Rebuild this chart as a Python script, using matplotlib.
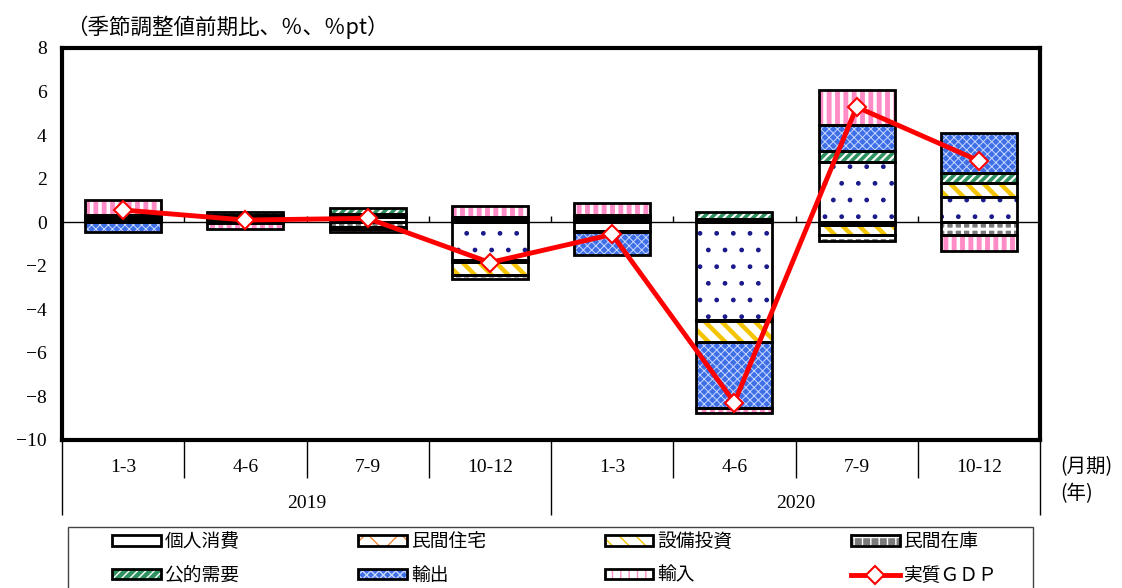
import matplotlib
matplotlib.use("Agg")
import matplotlib.pyplot as plt
import numpy as np
from matplotlib.patches import Patch, Rectangle
from matplotlib.lines import Line2D
from matplotlib.legend_handler import HandlerTuple

# ---------------- data ----------------
quarters = ["1-3", "4-6", "7-9", "10-12", "1-3", "4-6", "7-9", "10-12"]
years = ["2019", "2020"]
series_names = ["個人消費", "民間住宅", "設備投資", "民間在庫", "公的需要", "輸出", "輸入"]
consumption = [0.08, 0.15, 0.25, -1.72, -0.40, -4.50, 2.75, 1.18]
housing = [0.03, 0.02, 0.05, -0.10, -0.05, -0.05, -0.15, 0.00]
capex = [0.03, 0.10, 0.10, -0.62, 0.15, -0.95, -0.45, 0.60]
inventory = [0.10, 0.08, -0.20, -0.18, 0.10, 0.15, -0.25, -0.57]
public = [0.10, 0.10, 0.24, 0.12, 0.10, 0.32, 0.53, 0.46]
exports = [-0.47, -0.05, -0.10, 0.10, -1.05, -3.05, 1.20, 1.86]
imports = [0.69, -0.28, -0.16, 0.53, 0.55, -0.20, 1.60, -0.75]
gdp = [0.56, 0.10, 0.18, -1.85, -0.56, -8.28, 5.29, 2.82]
gdp_name = "実質ＧＤＰ"
yticks = list(range(-10, 9, 2))

# ---------------- styles ----------------
styles = [
    dict(face="white", hatch=".", hc="#1a1a8c", hlw=1.0),      # 個人消費
    dict(face="white", hatch="x", hc="#f08a40", hlw=1.6),      # 民間住宅
    dict(face="white", hatch="\\\\", hc="#f5c400", hlw=3.2),   # 設備投資
    dict(face="#7a7a7a", hatch="++", hc="white", hlw=2.2),     # 民間在庫
    dict(face="#2f9160", hatch="////", hc="white", hlw=1.6),   # 公的需要
    dict(face="#3f6fe6", hatch="xxxx", hc="#c8d8ff", hlw=0.7), # 輸出
    dict(face="white", hatch="||", hc="#ff8cc6", hlw=3.5),     # 輸入
]

CJK = ["Noto Sans CJK JP", "DejaVu Sans"]
NUM = ["Liberation Serif", "DejaVu Serif"]

fig = plt.figure(figsize=(11.22, 5.88), dpi=100)
ax = fig.add_axes([62 / 1122, 1 - 440 / 588, (1040 - 62) / 1122, (440 - 48) / 588])

x = np.arange(len(quarters))
width = 0.62
data = [consumption, housing, capex, inventory, public, exports, imports]
pos_bottom = np.zeros(len(x))
neg_bottom = np.zeros(len(x))


def set_hlw(patches, w):
    for p in patches:
        try:
            p.set_hatch_linewidth(w)
        except AttributeError:
            pass


for vals, st in zip(data, styles):
    vals = np.array(vals, dtype=float)
    bottoms = np.where(vals >= 0, pos_bottom, neg_bottom)
    mask = vals != 0
    with plt.rc_context({"hatch.linewidth": st["hlw"]}):
        bars = ax.bar(x[mask], vals[mask], width, bottom=bottoms[mask],
                      facecolor=st["face"], edgecolor=st["hc"], hatch=st["hatch"],
                      linewidth=0, zorder=2)
        set_hlw(bars, st["hlw"])
    ax.bar(x[mask], vals[mask], width, bottom=bottoms[mask], fill=False,
           edgecolor="black", linewidth=2, zorder=3)
    pos_bottom = pos_bottom + np.where(vals >= 0, vals, 0)
    neg_bottom = neg_bottom + np.where(vals < 0, vals, 0)

ax.plot(x, gdp, color="#ff0000", lw=3.5, marker="D", ms=9, mfc="white",
        mec="#ff0000", mew=1.5, zorder=5)

# zero axis with small tick marks at category boundaries
ax.axhline(0, color="black", lw=1, zorder=1)
bounds = np.arange(len(x) + 1) - 0.5
ax.vlines(bounds[1:-1], 0, 0.28, color="black", lw=1, zorder=1)

ax.set_xlim(-0.5, len(x) - 0.5)
ax.set_ylim(-10, 8)
ax.set_yticks(yticks)
ax.set_xticks([])
ax.tick_params(axis="y", length=0, pad=11, labelsize=14)
for lab in ax.get_yticklabels():
    lab.set_family(NUM)
for s in ax.spines.values():
    s.set_linewidth(3)
    s.set_color("black")

# category axis below
tr = ax.get_xaxis_transform()
inner = [b for i, b in enumerate(bounds) if i not in (0, 4, 8)]
outer = [bounds[0], bounds[4], bounds[8]]
ax.vlines(inner, -0.097, 0, transform=tr, color="black", lw=1, clip_on=False)
ax.vlines(outer, -0.191, 0, transform=tr, color="black", lw=1, clip_on=False)
for xi, q in zip(x, quarters):
    ax.text(xi, -0.069, q, transform=tr, ha="center", va="center",
            fontsize=14, family=NUM)
for i, yr in enumerate(years):
    ax.text(1.5 + 4 * i, -0.161, yr, transform=tr, ha="center", va="center",
            fontsize=14, family=NUM)

fig.text(1060 / 1122, 1 - 467 / 588, "(月期)", ha="left", va="center",
         fontsize=14, family=CJK)
fig.text(1060 / 1122, 1 - 494 / 588, "(年)", ha="left", va="center",
         fontsize=14, family=CJK)
fig.text(66 / 1122, 1 - 27 / 588, "（季節調整値前期比、％、％pt）", ha="left",
         va="center", fontsize=15.5, family=CJK)

# legend (row-wise order in the picture -> reorder for column filling)
handles = []
for st in styles:
    h1 = Patch(facecolor=st["face"], edgecolor=st["hc"], hatch=st["hatch"], linewidth=0)
    set_hlw([h1], st["hlw"])
    h2 = Patch(fill=False, edgecolor="black", linewidth=2)
    handles.append((h1, h2))
handles.append(Line2D([0], [0], color="#ff0000", lw=3.5, marker="D", ms=9,
                      mfc="white", mec="#ff0000", mew=1.5))
labels = series_names + [gdp_name]
order = [0, 4, 1, 5, 2, 6, 3, 7]
leg = fig.legend([handles[i] for i in order], [labels[i] for i in order],
                 ncol=4, mode="expand", frameon=False,
                 loc="upper left",
                 bbox_to_anchor=(112 / 1122, 1 - 532 / 588, 885 / 1122, 0.001),
                 borderpad=0, borderaxespad=0, handlelength=2.6, handleheight=0.5,
                 handletextpad=0.2, labelspacing=0.65,
                 handler_map={tuple: HandlerTuple(ndivide=1, pad=0)},
                 prop={"family": CJK, "size": 13.5})
fig.add_artist(Rectangle((68 / 1122, -0.02), (1033 - 68) / 1122, 0.02 + 61 / 588,
                         transform=fig.transFigure, fill=False, edgecolor="#444444",
                         lw=1, clip_on=False))

fig.savefig("out.png", dpi=100)
